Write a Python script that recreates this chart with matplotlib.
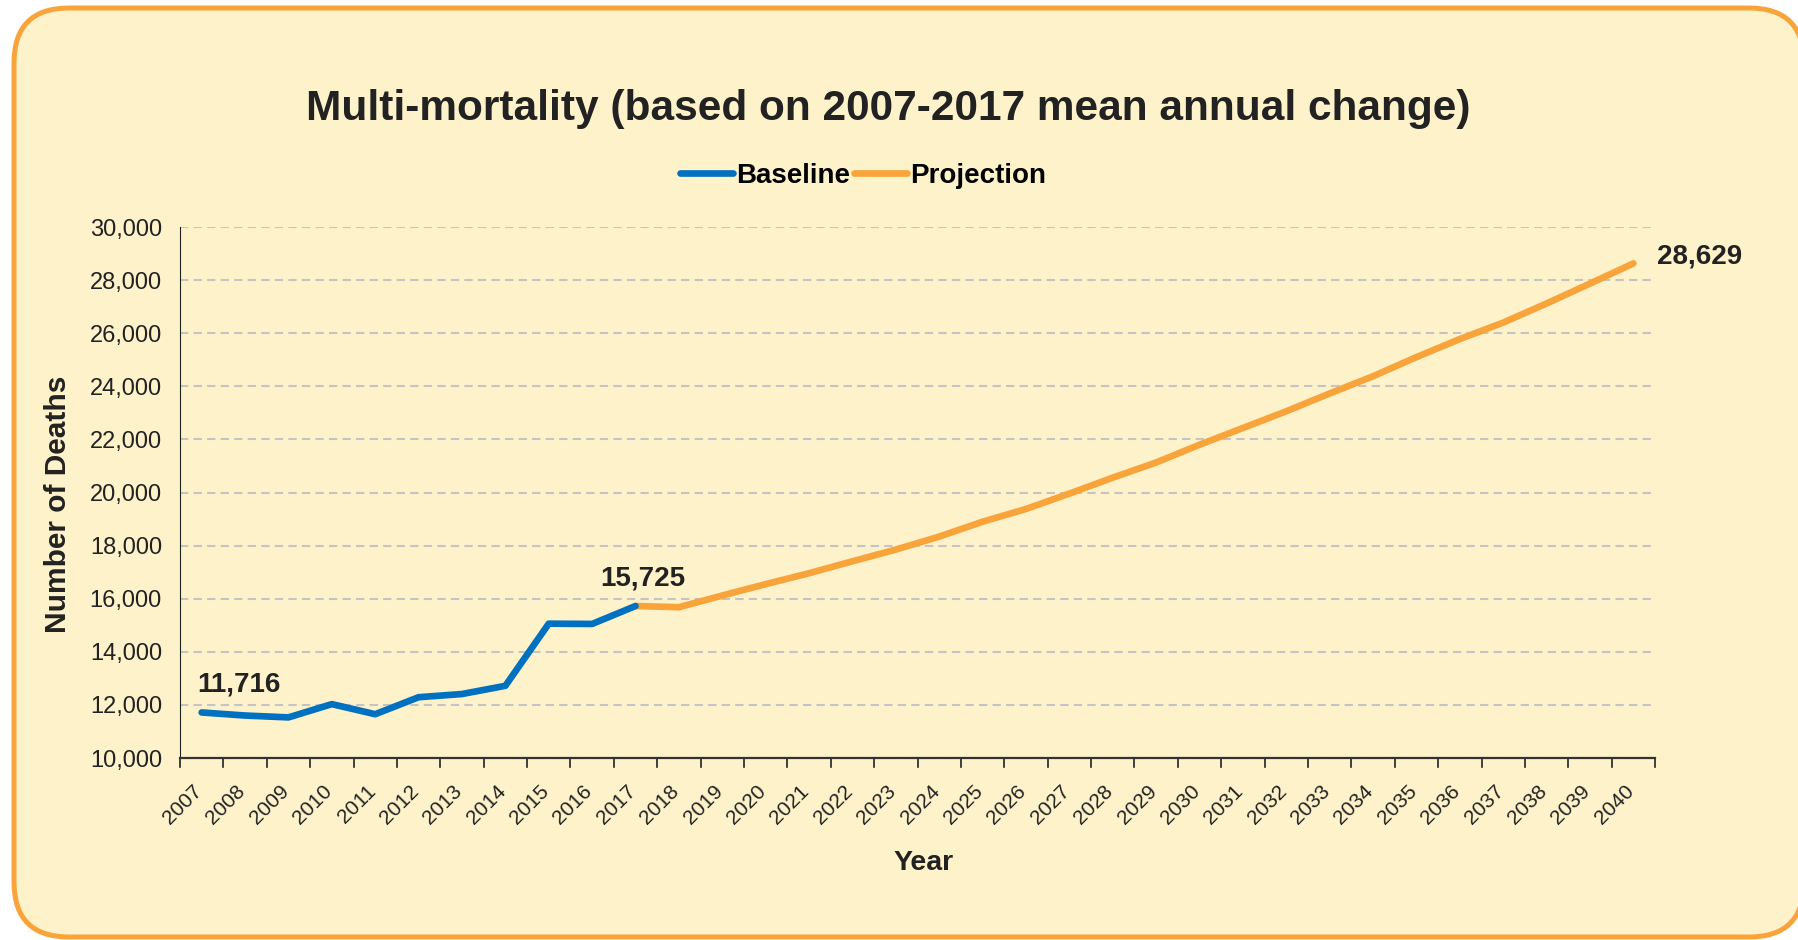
import matplotlib
matplotlib.use("Agg")
import matplotlib.pyplot as plt
from matplotlib.patches import FancyBboxPatch
from matplotlib.ticker import FuncFormatter, FixedLocator
from matplotlib.transforms import ScaledTranslation

plt.rcParams['font.family'] = ['Liberation Sans', 'DejaVu Sans']

years = list(range(2007, 2041))
baseline_years = list(range(2007, 2018))
baseline = [11716, 11600, 11530, 12030, 11650, 12290, 12410, 12720, 15060, 15050, 15725]
projection_years = list(range(2017, 2041))
projection = [15725, 15680, 16120, 16550, 16960, 17410, 17850, 18340, 18900, 19380,
              19960, 20560, 21130, 21800, 22430, 23060, 23730, 24380, 25100, 25780,
              26400, 27120, 27870, 28629]

blue = "#0070C0"
orange = "#F9A43A"
bg = "#FEF2CB"
ink = "#222222"

fig = plt.figure(figsize=(17.98, 9.40), dpi=100, facecolor="white")

# rounded panel behind everything, drawn in pixel units
back = fig.add_axes([0, 0, 1, 1], zorder=0)
back.set_xlim(0, 1798)
back.set_ylim(940, 0)
back.axis("off")
back.add_patch(FancyBboxPatch((14, 8), 1790, 929, boxstyle="round,pad=0,rounding_size=55",
                              facecolor=bg, edgecolor=orange, linewidth=3.6))

ax = fig.add_axes([0.1001, 0.1936, 0.8204, 0.5649], zorder=1)
ax.set_facecolor("none")

xb = [years.index(y) for y in baseline_years]
xp = [years.index(y) for y in projection_years]
ax.plot(xp, projection, color=orange, lw=4.8, solid_capstyle="round", label="Projection", zorder=3)
ax.plot(xb, baseline, color=blue, lw=4.8, solid_capstyle="round", label="Baseline", zorder=4)

ax.set_xlim(-0.5, len(years) - 0.5)
ax.set_ylim(10000, 30000)
ax.set_yticks(range(10000, 30001, 2000))
ax.yaxis.set_major_formatter(FuncFormatter(lambda v, p: f"{int(v):,}"))
ax.tick_params(axis="y", length=0, labelsize=17, pad=13, colors=ink)

ax.xaxis.set_major_locator(FixedLocator(range(len(years))))
ax.set_xticklabels([str(y) for y in years], rotation=45, ha="right", fontsize=15)
ax.tick_params(axis="x", length=0, pad=17, colors=ink)
shift = ScaledTranslation(4 / 100, 0, fig.dpi_scale_trans)
for t in ax.get_xticklabels():
    t.set_transform(t.get_transform() + shift)
for b in range(len(years) + 1):
    ax.plot([b - 0.5, b - 0.5], [0, -0.016], transform=ax.get_xaxis_transform(),
            color=ink, lw=1.2, clip_on=False)

ax.grid(axis="y", color="#C4C4C4", linestyle=(0, (4, 2.5)), linewidth=1.5)
ax.set_axisbelow(True)
for s in ["top", "right"]:
    ax.spines[s].set_visible(False)
ax.spines["left"].set_color(ink)
ax.spines["bottom"].set_color("#333333")
ax.spines["bottom"].set_linewidth(1.6)

ax.set_ylabel("Number of Deaths", fontsize=21.5, fontweight="bold", color=ink)
ax.yaxis.set_label_coords(-0.073, 0.478)
ax.set_xlabel("Year", fontsize=20.5, fontweight="bold", color=ink)
ax.xaxis.set_label_coords(0.504, -0.173)

lab = dict(fontsize=20, fontweight="bold", color=ink, textcoords="offset points")
ax.annotate(f"{baseline[0]:,}", (xb[0], baseline[0]), xytext=(27, 20), ha="center", va="center", **lab)
ax.annotate(f"{baseline[-1]:,}", (xb[-1], baseline[-1]), xytext=(5, 20), ha="center", va="center", **lab)
ax.annotate(f"{projection[-1]:,}", (xp[-1], projection[-1]), xytext=(17, 5), ha="left", va="center", **lab)

handles, labels = ax.get_legend_handles_labels()
fig.legend(handles[::-1], labels[::-1], loc="center", bbox_to_anchor=(0.48, 0.813), ncol=2,
           frameon=False, handlelength=1.9, handletextpad=0.1, columnspacing=0.15,
           prop=dict(size=20, weight="bold"))

fig.text(0.494, 0.884, "Multi-mortality (based on 2007-2017 mean annual change)",
         ha="center", va="center", fontsize=30.5, fontweight="bold", color=ink)

fig.savefig("out.png", dpi=100, facecolor="white")
